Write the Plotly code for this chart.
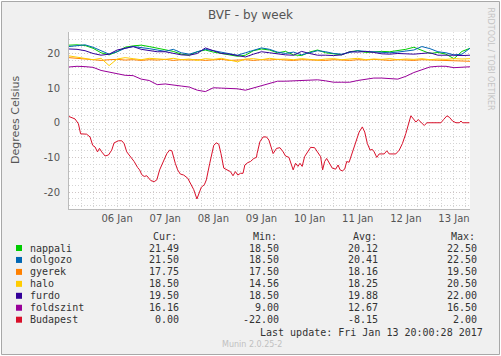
import plotly.graph_objects as go
import pandas as pd

# ---------------- data ----------------
START = pd.Timestamp("2017-01-05 12:00")
END = pd.Timestamp("2017-01-13 20:00")

hours4 = list(range(0, 201, 4))

nappali = [22.4, 22.5, 22.3, 21.5, 20.2, 19.6, 20.5, 21.8, 22.2, 22.4, 22.0, 21.5, 21.0, 20.6, 19.8,
           19.5, 20.5, 21.0, 20.4, 20.0, 19.8, 19.2, 19.5, 20.8, 21.3, 21.0, 20.2, 20.6, 19.6, 19.4,
           20.4, 21.0, 20.2, 19.8, 19.6, 20.5, 20.8, 20.3, 20.5, 20.6, 20.5, 20.8, 21.2, 21.8, 20.8,
           20.0, 20.3, 19.8, 18.5, 20.6, 21.5]
dolgozo = [22.0, 22.3, 22.5, 21.8, 20.8, 19.8, 20.5, 21.5, 22.0, 21.8, 21.4, 21.0, 20.6, 21.2, 20.2,
           19.8, 20.6, 21.2, 20.8, 20.4, 20.0, 19.5, 20.2, 21.0, 21.6, 21.2, 20.4, 20.0, 20.4, 19.6,
           20.2, 20.8, 20.5, 20.0, 19.8, 20.3, 20.8, 20.6, 20.4, 20.2, 20.2, 20.4, 20.6, 21.0, 22.0,
           21.4, 20.5, 20.2, 19.6, 19.8, 21.5]
gyerek = [18.8, 18.6, 18.4, 18.2, 18.0, 18.2, 18.3, 18.1, 18.2, 18.0, 18.2, 18.1, 18.3, 18.0, 18.2,
          18.1, 18.2, 18.0, 18.1, 18.3, 18.0, 18.1, 18.2, 18.0, 18.2, 18.1, 18.3, 18.1, 18.0, 18.2,
          18.1, 18.2, 18.0, 18.2, 18.1, 18.0, 18.2, 18.1, 18.3, 18.1, 18.0, 18.2, 18.1, 18.0, 18.2,
          18.1, 18.2, 18.0, 17.9, 17.8, 17.75]
halo = [19.3, 19.0, 18.5, 18.2, 18.6, 16.5, 18.4, 18.8, 18.5, 18.2, 18.6, 18.4, 18.3, 18.6, 18.2,
        18.4, 18.0, 18.5, 18.3, 18.6, 18.2, 17.6, 18.4, 18.5, 18.2, 18.6, 18.3, 18.4, 18.2, 18.5,
        18.3, 18.1, 18.4, 18.5, 18.2, 18.3, 18.6, 18.2, 18.4, 18.3, 18.5, 18.2, 18.4, 18.3, 18.5,
        18.2, 18.4, 18.3, 18.5, 18.4, 18.5]
furdo = [21.3, 21.2, 20.8, 20.0, 19.5, 19.8, 21.0, 21.5, 22.0, 21.2, 20.8, 20.5, 20.5, 20.0, 19.6,
         19.5, 20.0, 21.6, 20.8, 20.0, 19.8, 19.3, 19.0, 19.8, 20.5, 20.2, 19.8, 19.6, 19.5, 20.6,
         20.0, 19.5, 19.5, 19.4, 19.6, 20.5, 20.4, 20.6, 20.3, 19.9, 19.8, 20.0, 19.9, 19.8, 20.0,
         20.2, 19.5, 19.6, 19.5, 19.4, 19.5]
foldszint = [16.1, 16.3, 16.2, 16.0, 15.1, 14.6, 14.0, 13.7, 13.6, 12.6, 12.2, 11.0, 11.2, 11.0, 10.6,
             10.3, 9.4, 9.0, 10.1, 10.0, 10.0, 9.8, 9.4, 10.0, 10.6, 11.3, 12.0, 12.0, 12.1, 12.2,
             12.3, 12.4, 12.1, 11.7, 11.7, 11.7, 12.2, 12.5, 12.9, 12.9, 12.8, 12.6, 13.4, 14.5, 15.3,
             16.1, 16.3, 16.3, 15.9, 16.0, 16.16]

budapest_hours = [0, 3, 4.7, 5.8, 8.8, 10.5, 11.8, 13, 14.2, 15.2, 16.3, 18, 19.7, 21.3, 22.5, 24.7,
                  26.3, 27.5, 28.8, 30.8, 32.5, 34.2, 35.2, 36.3, 37.5, 38.8, 40, 40.8, 42.5, 43.8,
                  45.2, 47.2, 48.8, 50.2, 51.3, 53, 54.2, 55.5, 57.2, 59.2, 60.5, 62.2, 63.8, 64.7,
                  66, 67.5, 68.5, 70.2, 72.2, 73.5, 74.7, 75.8, 77.2, 78.8, 80.5, 81.8, 83, 84.2,
                  85.5, 86.8, 87.7, 89.2, 90.5, 92.2, 93.5, 93.8, 95.2, 96.8, 98.5, 99.7, 100.8,
                  101.8, 103.5, 105.2, 106.8, 108, 109.7, 110.8, 111.8, 113, 114.2, 115.2, 116.3,
                  117.5, 118.8, 120.5, 122.5, 123.8, 125.5, 126.5, 127.5, 128.5, 129.7, 131.3, 133,
                  134.2, 135.2, 136.3, 137.5, 138.5, 139.7, 141.3, 143, 144.7, 146.3, 147.5, 148.8,
                  150.2, 151.3, 152.2, 153.5, 154.7, 157.2, 158.5, 159.7, 163, 164.7, 166.3, 168,
                  169.2, 170.5, 171.8, 173, 174.2, 175.5, 177.2, 178.5, 185.5, 186.8, 188.5, 189.7,
                  191.3, 193, 194.7, 195.5, 196.3, 199.7]
budapest = [1.8, 1.1, -0.3, -3.2, -3.3, -4.1, -6.5, -7.0, -8.4, -7.4, -8.4, -9.6, -9.3, -7.9, -5.8, -5.2,
            -5.2, -6.0, -8.4, -9.8, -11.2, -12.9, -13.6, -15.0, -15.5, -15.3, -16.0, -16.7, -17.0, -16.5,
            -13.6, -11.2, -8.9, -7.9, -8.1, -11.7, -13.6, -14.8, -15.1, -16.0, -17.4, -19.3, -22.0, -20.8,
            -18.6, -17.9, -16.5, -11.7, -6.5, -5.8, -6.2, -8.9, -13.1, -13.6, -14.1, -15.3, -14.1, -15.1,
            -14.6, -14.6, -12.2, -11.5, -11.2, -10.3, -10.0, -8.9, -5.5, -4.1, -4.1, -5.0, -7.0,
            -8.9, -7.4, -7.2, -8.4, -9.6, -10.0, -11.7, -13.6, -11.7, -12.6, -11.7, -12.6,
            -9.8, -8.7, -7.1, -7.2, -8.4, -9.8, -13.6, -11.2, -10.3, -11.7, -13.1, -13.4,
            -12.2, -13.6, -13.9, -13.4, -11.2, -11.4, -8.4, -5.5, -2.7, -1.2, -2.7, -6.0,
            -7.9, -7.7, -8.4, -10.0, -9.0, -9.0, -8.1, -9.0, -9.0, -7.9, -6.0, -3.1,
            -0.8, 2.0, 1.1, 0.2, 0.9, 0.2, -0.8, 0.0, 0.0, 0.9, 2.0, 1.6,
            0.5, 0.0, 0.0, 0.5, 0.0, 0.0]

series_names = ["nappali", "dolgozo", "gyerek", "halo", "furdo", "foldszint", "Budapest"]
series_colors = ["#00CC00", "#0066B3", "#FF8000", "#FFCC00", "#330099", "#990099", "#D8102A"]
cur_vals = [21.49, 21.50, 17.75, 18.50, 19.50, 16.16, 0.00]
min_vals = [18.50, 18.50, 17.50, 14.56, 18.50, 9.00, -22.00]
avg_vals = [20.12, 20.41, 18.16, 18.25, 19.88, 12.67, -8.15]
max_vals = [22.50, 22.50, 19.50, 20.50, 22.00, 16.50, 2.00]

x_tick_labels = ["06 Jan", "07 Jan", "08 Jan", "09 Jan", "10 Jan", "11 Jan", "12 Jan", "13 Jan"]
x_tick_days = [6, 7, 8, 9, 10, 11, 12, 13]
y_tick_vals = [-20, -10, 0, 10, 20]
y_tick_labels = ["-20", "-10", "0", "10", "20"]

title_text = "BVF - by week"
y_title = "Degrees Celsius"
last_update = "Last update: Fri Jan 13 20:00:28 2017"
footer = "Munin 2.0.25-2"
side_text = "RRDTOOL / TOBI OETIKER"

# ---------------- figure ----------------
FW, FH = 501, 356
L, R, T, B = 69, 31, 32, 147
W, H = FW - L - R, FH - T - B


def px(x):
    return (x - L) / W


def py(y):
    return (FH - B - y) / H


def to_time(hours):
    return [START + pd.Timedelta(hours=h) for h in hours]


fig = go.Figure()
upper = [nappali, dolgozo, gyerek, halo, furdo, foldszint]
for name, color, vals in zip(series_names[:6], series_colors[:6], upper):
    fig.add_trace(go.Scatter(x=to_time(hours4), y=vals, mode="lines", name=name,
                             line=dict(color=color, width=1)))
fig.add_trace(go.Scatter(x=to_time(budapest_hours), y=budapest, mode="lines", name="Budapest",
                         line=dict(color=series_colors[6], width=1)))

MONO = "DejaVu Sans Mono"
SANS = "DejaVu Sans"
TXT = "#333333"

ann = []
ann.append(dict(text=title_text, x=px(250), y=py(15), xref="paper", yref="paper",
                showarrow=False, font=dict(family=SANS, size=12, color="#555555"),
                xanchor="center", yanchor="middle"))
ann.append(dict(text=y_title, x=px(15), y=py(120), xref="paper", yref="paper", textangle=-90,
                showarrow=False, font=dict(family=SANS, size=11, color="#555555"),
                xanchor="center", yanchor="middle"))
ann.append(dict(text=side_text, x=px(490.5), y=py(59), xref="paper", yref="paper", textangle=90,
                showarrow=False, font=dict(family=SANS, size=8, color="#C4C4C4"),
                xanchor="center", yanchor="middle", borderpad=0))

header_y = 236
row0_y = 248
row_dy = 11.95
for hx, htxt in zip([151, 251, 351, 449], ["Cur:", "Min:", "Avg:", "Max:"]):
    ann.append(dict(text=htxt, x=px(hx), y=py(header_y), xref="paper", yref="paper",
                    showarrow=False, font=dict(family=MONO, size=10, color=TXT),
                    xanchor="left", yanchor="middle"))

shapes = []
# outer frame and plot background
shapes.append(dict(type="rect", xref="paper", yref="paper", x0=px(1.5), x1=px(499.5),
                   y0=py(354.5), y1=py(1.5), fillcolor="#F0F0F0",
                   line=dict(color="#A8A8A8", width=1), layer="below"))
shapes.append(dict(type="rect", xref="paper", yref="paper", x0=0, x1=1, y0=0, y1=1,
                   fillcolor="#FFFFFF", line=dict(width=0), layer="below"))

for i, name in enumerate(series_names):
    yy = row0_y + i * row_dy
    shapes.append(dict(type="rect", xref="paper", yref="paper", x0=px(16), x1=px(22),
                       y0=py(yy + 3), y1=py(yy - 3), fillcolor=series_colors[i],
                       line=dict(width=0), layer="above"))
    ann.append(dict(text=name, x=px(28), y=py(yy), xref="paper", yref="paper",
                    showarrow=False, font=dict(family=MONO, size=10, color=TXT),
                    xanchor="left", yanchor="middle"))
    for rx, v in zip([181, 281, 380, 479], [cur_vals[i], min_vals[i], avg_vals[i], max_vals[i]]):
        ann.append(dict(text=f"{v:.2f}", x=px(rx), y=py(yy), xref="paper", yref="paper",
                        showarrow=False, font=dict(family=MONO, size=10, color=TXT),
                        xanchor="right", yanchor="middle"))

ann.append(dict(text=last_update, x=px(485), y=py(332), xref="paper", yref="paper",
                showarrow=False, font=dict(family=MONO, size=10, color=TXT),
                xanchor="right", yanchor="middle"))
ann.append(dict(text=footer, x=px(252), y=py(344), xref="paper", yref="paper",
                showarrow=False, font=dict(family=SANS, size=8, color="#C0C0C0"),
                xanchor="center", yanchor="middle"))

GRID = "#D4D4D4"
DASH = "1px,2px"
fig.update_layout(
    width=FW, height=FH,
    margin=dict(l=L, r=R, t=T, b=B, pad=0),
    paper_bgcolor="#FFFFFF",
    plot_bgcolor="#FFFFFF",
    showlegend=False,
    annotations=ann,
    shapes=shapes,
    xaxis=dict(
        type="date",
        range=[START, END],
        tickvals=[pd.Timestamp(2017, 1, d, 12) for d in x_tick_days],
        ticktext=x_tick_labels,
        showgrid=True, gridcolor=GRID, griddash=DASH, gridwidth=1,
        minor=dict(dtick=6 * 3600 * 1000, tick0="2017-01-05 00:00", showgrid=True,
                   gridcolor=GRID, griddash=DASH, gridwidth=1),
        showline=True, linecolor="#BBBBBB", linewidth=1,
        ticks="", zeroline=False,
        tickfont=dict(family=SANS, size=10, color="#555555"),
        fixedrange=True,
    ),
    yaxis=dict(
        range=[-24.9, 26.2],
        tickvals=y_tick_vals, ticktext=y_tick_labels,
        showgrid=True, gridcolor="#CFC6C6", griddash=DASH, gridwidth=1,
        minor=dict(dtick=2, tick0=0, showgrid=True, gridcolor=GRID, griddash=DASH, gridwidth=1),
        showline=True, linecolor="#BBBBBB", linewidth=1,
        ticks="", zeroline=False, ticklabelstandoff=6,
        tickfont=dict(family=SANS, size=10, color="#555555"),
        fixedrange=True,
    ),
)

fig.write_html("out.html", config={"displayModeBar": False},
               post_script="document.body.style.margin='0';document.body.style.overflow='hidden';")
